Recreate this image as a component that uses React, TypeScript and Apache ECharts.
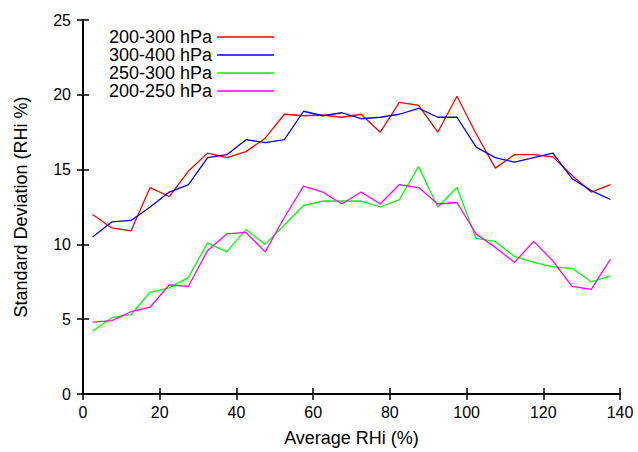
import React, { useEffect, useRef } from "react";
import * as echarts from "echarts";

const xValues = [2.5, 7.5, 12.5, 17.5, 22.5, 27.5, 32.5, 37.5, 42.5, 47.5, 52.5, 57.5, 62.5, 67.5, 72.5, 77.5, 82.5, 87.5, 92.5, 97.5, 102.5, 107.5, 112.5, 117.5, 122.5, 127.5, 132.5, 137.5];

const s200_300 = [12.0, 11.1, 10.9, 13.8, 13.2, 14.9, 16.1, 15.8, 16.2, 17.1, 18.7, 18.6, 18.65, 18.5, 18.7, 17.5, 19.5, 19.3, 17.5, 19.9, 17.4, 15.1, 16.0, 16.0, 15.85, 14.6, 13.5, 14.0];
const s300_400 = [10.5, 11.5, 11.6, 12.5, 13.5, 14.0, 15.8, 16.0, 17.0, 16.8, 17.0, 18.9, 18.6, 18.8, 18.4, 18.5, 18.7, 19.1, 18.5, 18.5, 16.5, 15.8, 15.5, 15.8, 16.1, 14.4, 13.6, 13.0];
const s250_300 = [4.2, 5.1, 5.3, 6.8, 7.1, 7.8, 10.1, 9.5, 11.0, 10.0, 11.3, 12.6, 12.9, 12.9, 12.9, 12.5, 13.0, 15.2, 12.5, 13.8, 10.4, 10.2, 9.2, 8.8, 8.5, 8.4, 7.5, 7.9];
const s200_250 = [4.8, 4.9, 5.5, 5.8, 7.3, 7.2, 9.6, 10.7, 10.8, 9.5, 11.8, 13.9, 13.5, 12.7, 13.5, 12.7, 14.0, 13.8, 12.7, 12.8, 10.7, 9.8, 8.8, 10.2, 8.9, 7.2, 7.0, 9.0];

const seriesNames = ["200-300 hPa", "300-400 hPa", "250-300 hPa", "200-250 hPa"];
const seriesColors = ["#ff0000", "#0000ff", "#00ff00", "#ff00ff"];
const seriesValues = [s200_300, s300_400, s250_300, s200_250];

const xTicks = { min: 0, max: 140, interval: 20 };
const yTicks = { min: 0, max: 25, interval: 5 };

const FONT = "Liberation Sans, Arial, sans-serif";

export default function App() {
  const ref = useRef<HTMLDivElement>(null);
  useEffect(() => {
    if (!ref.current) return;
    const chart = echarts.init(ref.current, undefined, { renderer: "svg" });
    const axisLine = { show: true, lineStyle: { color: "#000", width: 2 } };
    const tick = { show: true, inside: true, length: 6, lineStyle: { color: "#000", width: 1.5 } };
    chart.setOption({
      animation: false,
      backgroundColor: "#fff",
      textStyle: { fontFamily: FONT },
      grid: { left: 83, top: 20, right: 18, bottom: 54, containLabel: false },
      legend: {
        orient: "vertical",
        align: "right",
        left: 109,
        top: 28,
        padding: 0,
        itemWidth: 57,
        itemHeight: 10,
        itemGap: 0,
        data: seriesNames,
        itemStyle: { opacity: 0, borderWidth: 0 },
        lineStyle: { width: 1.3 },
        textStyle: { fontSize: 18, lineHeight: 17.7, color: "#000", fontFamily: FONT },
      },
      xAxis: [
        {
          type: "value",
          position: "bottom",
          ...xTicks,
          name: "Average RHi (%)",
          nameLocation: "middle",
          nameGap: 35,
          nameTextStyle: { fontSize: 18, color: "#000", fontFamily: FONT },
          axisLine,
          axisTick: tick,
          axisLabel: { fontSize: 16, color: "#000", margin: 10, fontFamily: FONT },
          splitLine: { show: false },
        },
        {
          type: "value",
          position: "top",
          ...xTicks,
          axisLine,
          axisTick: tick,
          axisLabel: { show: false },
          splitLine: { show: false },
        },
      ],
      yAxis: [
        {
          type: "value",
          position: "left",
          ...yTicks,
          name: "Standard Deviation (RHi %)",
          nameLocation: "middle",
          nameGap: 53,
          nameTextStyle: { fontSize: 18, color: "#000", fontFamily: FONT },
          axisLine,
          axisTick: tick,
          axisLabel: { fontSize: 16, color: "#000", margin: 12, fontFamily: FONT },
          splitLine: { show: false },
        },
        {
          type: "value",
          position: "right",
          ...yTicks,
          axisLine,
          axisTick: tick,
          axisLabel: { show: false },
          splitLine: { show: false },
        },
      ],
      series: seriesNames.map((name, i) => ({
        name,
        type: "line",
        symbol: "none",
        xAxisIndex: 0,
        yAxisIndex: 0,
        data: xValues.map((x, j) => [x, seriesValues[i][j]]),
        color: seriesColors[i],
        lineStyle: { color: seriesColors[i], width: 1.3 },
        itemStyle: { color: seriesColors[i] },
      })),
    });
    return () => chart.dispose();
  }, []);
  return (
    <div
      ref={ref}
      style={{ position: "fixed", left: 0, top: 0, width: 638, height: 452 }}
    />
  );
}
